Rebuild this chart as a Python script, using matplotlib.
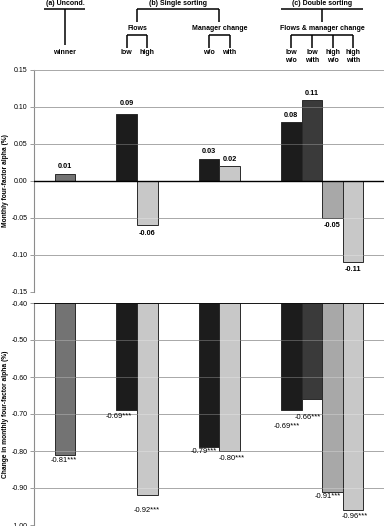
import numpy as np
import matplotlib
matplotlib.use("Agg")
import matplotlib.pyplot as plt
from matplotlib.ticker import FormatStrFormatter

plt.rcParams['font.family'] = ['Liberation Sans', 'DejaVu Sans']

# data
leaf_labels = ["winner", "low", "high", "w/o", "with", "low\nw/o", "low\nwith", "high\nw/o", "high\nwith"]
alpha = [0.01, 0.09, -0.06, 0.03, 0.02, 0.08, 0.11, -0.05, -0.11]
change = [-0.81, -0.69, -0.92, -0.79, -0.80, -0.69, -0.66, -0.91, -0.96]
stars = ["***"] * 9
top_ticks = [0.15, 0.10, 0.05, 0.00, -0.05, -0.10, -0.15]
bottom_ticks = [-0.40, -0.50, -0.60, -0.70, -0.80, -0.90, -1.00]

# layout: bar slots on a 17-slot axis
slots = np.array([1, 4, 5, 8, 9, 12, 13, 14, 15])
centers = slots + 0.5
colors = ["#737373", "#1c1c1c", "#c8c8c8", "#1c1c1c", "#c8c8c8",
          "#1c1c1c", "#3a3a3a", "#a8a8a8", "#c8c8c8"]
# label nudges in pixels (hand placed in the original)
top_dy = [7, 11, 8, 7, 6.5, 6.5, 6.5, 8, 7.5]
bot_dx = [-0.6, -7.8, -0.9, -5, 2, -4.4, -4, -5, 1.6]
bot_dy = [6, 6.5, 15, 4, 7, 16, 18, 5, 6]

W, H = 387, 526
fig = plt.figure(figsize=(W / 100, H / 100), dpi=100)
left = 34 / W
width = 350 / W
ax_top = fig.add_axes([left, 1 - 292 / H, width, 222 / H])
ax_bot = fig.add_axes([left, 1 - 525 / H, width, 222 / H])
ax_head = fig.add_axes([left, 1 - 70 / H, width, 70 / H])

grid_c = "#8c8c8c"
px = 0.72  # points per pixel at 100 dpi


def style_axis(ax, ticks, lo, hi):
    ax.set_xlim(0, 17)
    ax.set_ylim(lo, hi)
    ax.set_yticks(ticks)
    ax.yaxis.set_major_formatter(FormatStrFormatter('%.2f'))
    ax.set_xticks([])
    for s in ["right", "top", "bottom"]:
        ax.spines[s].set_visible(False)
    ax.spines["left"].set_color(grid_c)
    ax.spines["left"].set_linewidth(0.8)
    ax.tick_params(axis="y", labelsize=5, length=3, width=0.6, color=grid_c, pad=1.5)
    for t in ticks:
        ax.axhline(t, color=grid_c, lw=0.7, zorder=0)
        ax.axhline(t, color="white", lw=0.7, alpha=0.25, zorder=3)


# top panel: alphas
style_axis(ax_top, top_ticks, -0.15, 0.15)
ax_top.bar(centers, alpha, width=1.0, color=colors, edgecolor="#2a2a2a", linewidth=0.7, zorder=2)
ax_top.axhline(0, color="black", lw=1.0, zorder=4)
for x, v, dy in zip(centers, alpha, top_dy):
    off = dy if v > 0 else -dy
    ax_top.annotate(f"{v:.2f}", (x, v), xytext=(0, off * px), textcoords="offset points",
                    ha="center", va="center", fontsize=5.3, fontweight="bold")
ax_top.set_ylabel("Monthly four-factor alpha (%)", fontsize=4.8, fontweight="bold")

# bottom panel: change in alphas, bars hang from -0.40
style_axis(ax_bot, bottom_ticks, -1.00, -0.40)
base = -0.40
ax_bot.bar(centers, [v - base for v in change], bottom=base, width=1.0, color=colors,
           edgecolor="#2a2a2a", linewidth=0.7, zorder=2)
ax_bot.axhline(base, color="black", lw=1.2, zorder=4)
for x, v, s, dx, dy in zip(centers, change, stars, bot_dx, bot_dy):
    ax_bot.annotate(f"{v:.2f}{s}", (x, v), xytext=(dx * px, -dy * px), textcoords="offset points",
                    ha="center", va="center", fontsize=5.4, zorder=5)
ax_bot.set_ylabel("Change in monthly four-factor alpha (%)", fontsize=4.8, fontweight="bold")
ax_top.yaxis.set_label_coords(-0.07, 0.5)
ax_bot.yaxis.set_label_coords(-0.07, 0.5)

# header tree
ax_head.set_xlim(0, 17)
ax_head.set_ylim(70, 0)
ax_head.axis("off")
lw = 1.1
fs = 5.0
hk = dict(ha="center", va="center", fontsize=fs, fontweight="bold")


def hline(x0, x1, y):
    ax_head.plot([x0, x1], [y, y], color="black", lw=lw, solid_capstyle="butt")


def vline(x, y0, y1):
    ax_head.plot([x, x], [y0, y1], color="black", lw=lw, solid_capstyle="butt")


# (a)
ax_head.text(centers[0], 3.5, "(a) Uncond.", **hk)
hline(centers[0] - 1.0, centers[0] + 1.0, 9)
vline(centers[0], 9, 45)

# (b)
flows_c = centers[1:3].mean()
mgr_c = centers[3:5].mean()
ax_head.text((flows_c + mgr_c) / 2, 3.5, "(b) Single sorting", **hk)
hline(flows_c, mgr_c, 9)
vline(flows_c, 9, 22)
vline(mgr_c, 9, 22)
ax_head.text(flows_c, 29, "Flows", **hk)
ax_head.text(mgr_c, 29, "Manager change", **hk)
for grp in (centers[1:3], centers[3:5]):
    hline(grp[0], grp[-1], 35)
    for x in grp:
        vline(x, 35, 48)

# (c)
dbl = centers[5:9]
dbl_c = dbl.mean()
ax_head.text(dbl_c, 3.5, "(c) Double sorting", **hk)
hline(dbl[0] - 0.5, dbl[-1] + 0.5, 9)
vline(dbl_c, 9, 22)
ax_head.text(dbl_c, 29, "Flows & manager change", **hk)
hline(dbl[0], dbl[-1], 35)
for x in dbl:
    vline(x, 35, 48)

# leaf labels
for x, lab in zip(centers, leaf_labels):
    ax_head.text(x, 49.3, lab, ha="center", va="top", fontsize=fs, fontweight="bold", linespacing=1.2)

fig.savefig("out.png", dpi=100)
